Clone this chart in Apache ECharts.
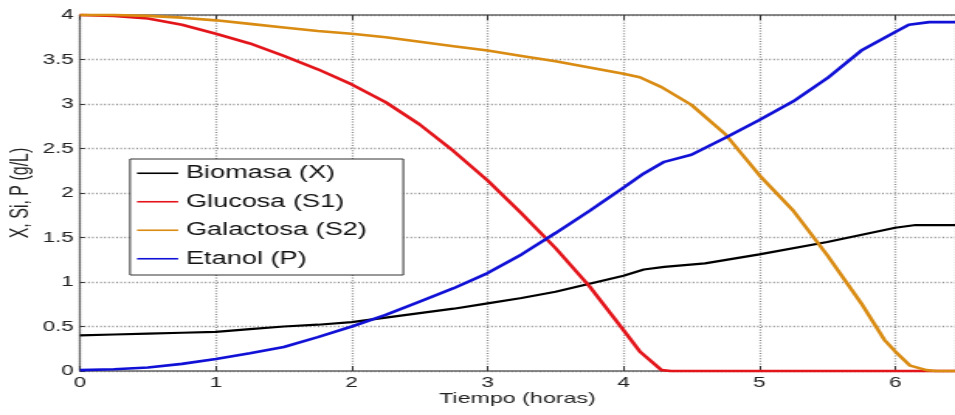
<!DOCTYPE html>
<html>
<head>
<meta charset="utf-8">
<script src="https://cdn.jsdelivr.net/npm/echarts@6/dist/echarts.min.js"></script>
<style>
  html, body { margin: 0; padding: 0; background: #fff; overflow: hidden; }
  #wrap { width: 955px; height: 415px; overflow: hidden; position: relative; }
  /* The figure is drawn at its native width and widened to fill the page. */
  #chart { width: 616px; height: 415px; transform: scaleX(1.5503); transform-origin: 0 0; }
</style>
</head>
<body>
<div id="wrap"><div id="chart"></div></div>
<script>
// Time axis (hours) and concentrations (g/L) for each state variable
const tBiomasa = [0, 0.25, 0.5, 0.75, 1, 1.25, 1.5, 1.75, 2, 2.25, 2.5, 2.75, 3, 3.25, 3.5, 3.75, 4, 4.15, 4.3, 4.6, 5, 5.5, 6, 6.15, 6.44];
const biomasa  = [0.40, 0.41, 0.42, 0.43, 0.44, 0.47, 0.50, 0.52, 0.55, 0.60, 0.65, 0.70, 0.76, 0.82, 0.89, 0.98, 1.07, 1.14, 1.17, 1.21, 1.31, 1.45, 1.61, 1.64, 1.64];

const tGlucosa = [0, 0.25, 0.5, 0.75, 1, 1.25, 1.5, 1.75, 2, 2.25, 2.5, 2.75, 3, 3.25, 3.5, 3.75, 4, 4.12, 4.28, 4.35, 6.44];
const glucosa  = [4.00, 3.99, 3.96, 3.89, 3.79, 3.68, 3.54, 3.39, 3.22, 3.02, 2.77, 2.47, 2.14, 1.77, 1.38, 0.95, 0.46, 0.22, 0.01, 0, 0];

const tGalactosa = [0, 0.25, 0.5, 0.75, 1, 1.25, 1.5, 1.75, 2, 2.25, 2.5, 2.75, 3, 3.25, 3.5, 3.75, 4, 4.12, 4.28, 4.5, 4.75, 5, 5.25, 5.5, 5.75, 5.92, 6, 6.11, 6.23, 6.3, 6.44];
const galactosa  = [4.00, 4.00, 3.99, 3.97, 3.94, 3.90, 3.86, 3.82, 3.79, 3.75, 3.70, 3.65, 3.60, 3.54, 3.48, 3.41, 3.34, 3.30, 3.19, 2.99, 2.66, 2.20, 1.80, 1.30, 0.76, 0.35, 0.22, 0.06, 0.01, 0, 0];

const tEtanol = [0, 0.25, 0.5, 0.75, 1, 1.25, 1.5, 1.75, 2, 2.25, 2.5, 2.75, 3, 3.25, 3.5, 3.75, 4, 4.15, 4.3, 4.5, 4.75, 5, 5.25, 5.5, 5.75, 6, 6.1, 6.25, 6.44];
const etanol  = [0.01, 0.02, 0.04, 0.08, 0.135, 0.20, 0.27, 0.38, 0.50, 0.63, 0.78, 0.93, 1.10, 1.31, 1.55, 1.80, 2.06, 2.22, 2.35, 2.43, 2.62, 2.82, 3.03, 3.29, 3.60, 3.81, 3.89, 3.92, 3.92];

const seriesNames = ['Biomasa (X)', 'Glucosa (S1)', 'Galactosa (S2)', 'Etanol (P)'];
const seriesColors = ['#000000', '#e3141a', '#d98b12', '#1010d6'];
const xName = 'Tiempo (horas)';
const yName = 'X, Si, P (g/L)';

const zip = (t, v) => t.map((x, i) => [x, v[i]]);
const curves = [zip(tBiomasa, biomasa), zip(tGlucosa, glucosa), zip(tGalactosa, galactosa), zip(tEtanol, etanol)];

const FONT = 'Liberation Sans';
const axisGray = '#666666';
const gridDots = { color: '#8a8a8a', width: 1.3, type: [1, 1.6] };

const chart = echarts.init(document.getElementById('chart'), null, { renderer: 'canvas', devicePixelRatio: 1 });

chart.setOption({
  animation: false,
  backgroundColor: '#ffffff',
  textStyle: { fontFamily: FONT },
  grid: { left: 51.6, right: 0, top: 15, bottom: 44, containLabel: false, outerBoundsMode: 'none' },
  legend: {
    orient: 'vertical',
    left: 83.9,
    top: 159,
    padding: [5.25, 23.5, 7.25, 4.5],
    itemGap: 10.5,
    itemWidth: 26.5,
    itemHeight: 1.6,
    icon: 'rect',
    backgroundColor: '#ffffff',
    borderColor: '#333333',
    borderWidth: 1,
    borderRadius: 0,
    data: seriesNames,
    textStyle: { fontFamily: FONT, fontSize: 17.5, color: '#111' }
  },
  xAxis: [
    {
      type: 'value',
      min: 0, max: 6.44, interval: 1,
      name: xName,
      nameLocation: 'middle',
      nameGap: 20,
      nameMoveOverlap: false,
      nameTextStyle: { fontFamily: FONT, fontSize: 15, color: '#222' },
      axisLine: { show: true, onZero: false, lineStyle: { color: axisGray, width: 1.5 } },
      axisTick: { show: true, inside: true, length: 5, lineStyle: { color: '#333', width: 1 } },
      axisLabel: { margin: 4, fontFamily: FONT, fontSize: 14.5, color: '#222', showMaxLabel: false },
      splitLine: { show: true, lineStyle: gridDots }
    },
    {
      type: 'value',
      position: 'top',
      min: 0, max: 6.44, interval: 1,
      axisLine: { show: true, onZero: false, lineStyle: { color: axisGray, width: 1.5 } },
      axisTick: { show: true, inside: true, length: 5, lineStyle: { color: '#333', width: 1 } },
      axisLabel: { show: false },
      splitLine: { show: false }
    }
  ],
  yAxis: {
    type: 'value',
    min: 0, max: 4, interval: 0.5,
    name: yName,
    nameLocation: 'middle',
    nameGap: 30,
    nameMoveOverlap: false,
    nameRotate: 90,
    nameTextStyle: { fontFamily: FONT, fontSize: 16, color: '#222' },
    axisLine: { show: true, onZero: false, lineStyle: { color: axisGray, width: 1.2 } },
    axisTick: { show: true, inside: true, length: 3, lineStyle: { color: '#333', width: 1 } },
    axisLabel: { margin: 4, fontFamily: FONT, fontSize: 14.5, color: '#222' },
    splitLine: { show: true, lineStyle: gridDots }
  },
  series: curves.map((data, i) => ({
    name: seriesNames[i],
    type: 'line',
    xAxisIndex: 0,
    data: data,
    symbol: 'none',
    smooth: false,
    clip: false,
    color: seriesColors[i],
    itemStyle: { color: seriesColors[i] },
    lineStyle: { color: seriesColors[i], width: i === 0 ? 2.2 : 2.6 }
  }))
});
</script>
</body>
</html>
